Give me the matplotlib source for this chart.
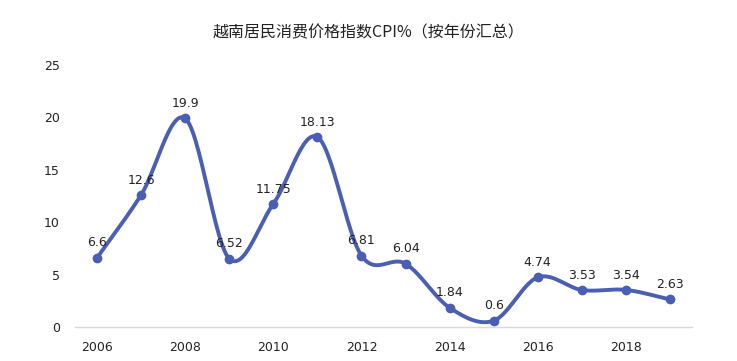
import numpy as np
import matplotlib
matplotlib.use("Agg")
import matplotlib.pyplot as plt

plt.rcParams['font.family'] = ['Noto Sans CJK SC', 'DejaVu Sans']

years = [2006, 2007, 2008, 2009, 2010, 2011, 2012, 2013, 2014, 2015, 2016, 2017, 2018, 2019]
cpi = [6.6, 12.6, 19.9, 6.52, 11.75, 18.13, 6.81, 6.04, 1.84, 0.6, 4.74, 3.53, 3.54, 2.63]
labels = ["6.6", "12.6", "19.9", "6.52", "11.75", "18.13", "6.81", "6.04", "1.84", "0.6", "4.74", "3.53", "3.54", "2.63"]
xticks = [2006, 2008, 2010, 2012, 2014, 2016, 2018]
yticks = [0, 5, 10, 15, 20, 25]
title = "越南居民消费价格指数CPI%（按年份汇总）"

color = "#4A5EB4"

def smooth(x, y, n=30):
    x = np.asarray(x, float); y = np.asarray(y, float)
    px = np.concatenate([[2*x[0]-x[1]], x, [2*x[-1]-x[-2]]])
    py = np.concatenate([[2*y[0]-y[1]], y, [2*y[-1]-y[-2]]])
    xs, ys = [], []
    t = np.linspace(0, 1, n)
    for i in range(1, len(px)-2):
        p0, p1, p2, p3 = (np.array([px[j], py[j]]) for j in range(i-1, i+3))
        b1 = p1 + (p2 - p0) / 6
        b2 = p2 - (p3 - p1) / 6
        pts = ((1-t)**3)[:, None]*p1 + (3*(1-t)**2*t)[:, None]*b1 + (3*(1-t)*t**2)[:, None]*b2 + (t**3)[:, None]*p2
        xs.append(pts[:, 0]); ys.append(pts[:, 1])
    return np.concatenate(xs), np.concatenate(ys)

fig = plt.figure(figsize=(7.37, 3.61), dpi=100)
ax = fig.add_axes([75/737, 34/361, 617/737, 262/361])
sx, sy = smooth(years, cpi)
ax.plot(sx, sy, color=color, lw=2.8, solid_capstyle='round')
ax.plot(years, cpi, 'o', color=color, ms=6)
for x, y, l in zip(years, cpi, labels):
    ax.annotate(l, (x, y), xytext=(0, 6), textcoords='offset points', ha='center', va='bottom',
                fontsize=9, color='#222222', family='DejaVu Sans')

ax.set_xlim(2005.5, 2019.5)
ax.set_ylim(0, 25)
ax.set_xticks(xticks)
ax.set_xticklabels([str(v) for v in xticks], fontsize=9, color='#222222', family='DejaVu Sans')
ax.set_yticks(yticks)
ax.set_yticklabels([str(v) for v in yticks], fontsize=9, color='#222222', family='DejaVu Sans')
ax.tick_params(length=0, pad=10)
ax.tick_params(axis='y', pad=11)
for s in ['top', 'right', 'left']:
    ax.spines[s].set_visible(False)
ax.spines['bottom'].set_color('#d9d9d9')
ax.spines['bottom'].set_linewidth(1)
fig.text(0.5, 1-33/361, title, ha='center', va='center', fontsize=11.5, color='#222222')
fig.savefig("out.png", dpi=100)
